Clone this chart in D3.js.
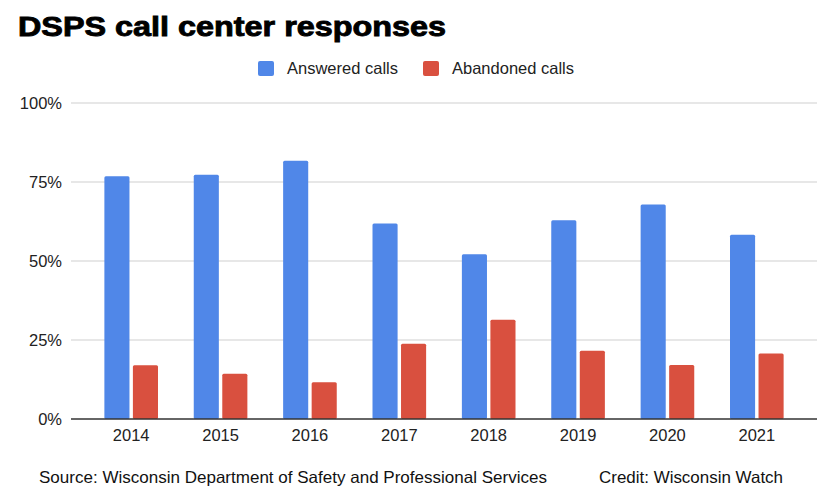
<!DOCTYPE html>
<html>
<head>
<meta charset="utf-8">
<script src="https://cdn.jsdelivr.net/npm/d3@7"></script>
<style>
  body { margin: 0; background: #fff; }
  text { font-family: "Liberation Sans", Arial, sans-serif; }
</style>
</head>
<body>
<div id="chart"></div>
<script>
// DSPS call center responses

var years = ["2014", "2015", "2016", "2017", "2018", "2019", "2020", "2021"];
var answered = [76.8, 77.3, 81.7, 61.9, 52.1, 62.9, 67.9, 58.3];
var abandoned = [17.0, 14.3, 11.6, 23.8, 31.4, 21.6, 17.1, 20.7];
var seriesNames = ["Answered calls", "Abandoned calls"];
var seriesColors = ["#5087e8", "#d9503f"];
var yTicks = [0, 25, 50, 75, 100];

var svgWidth = 829;
var svgHeight = 500;

var svg = d3.select("#chart")
  .append("svg")
  .attr("width", svgWidth)
  .attr("height", svgHeight);

// Title
svg.append("text")
  .attr("x", 18)
  .attr("y", 36)
  .attr("font-size", 28)
  .attr("font-weight", "bold")
  .attr("fill", "#000")
  .attr("stroke", "#000")
  .attr("stroke-width", 0.9)
  .attr("textLength", 428)
  .attr("lengthAdjust", "spacingAndGlyphs")
  .text("DSPS call center responses");

// Legend
var legendX = [258, 423];
seriesNames.forEach(function(name, i) {
  svg.append("rect")
    .attr("x", legendX[i])
    .attr("y", 61)
    .attr("width", 16)
    .attr("height", 15)
    .attr("rx", 2)
    .attr("fill", seriesColors[i]);
  svg.append("text")
    .attr("x", legendX[i] + 29)
    .attr("y", 74)
    .attr("font-size", 16.5)
    .attr("fill", "#222")
    .text(name);
});

// Scales
var x0 = d3.scaleBand()
  .domain(years)
  .range([86.5, 801.5])
  .paddingInner(0.4)
  .paddingOuter(0.2);

var x1 = d3.scaleBand()
  .domain([0, 1])
  .range([0, x0.bandwidth()])
  .paddingInner(0.12);

var y = d3.scaleLinear()
  .domain([0, 100])
  .range([419, 103]);

// Gridlines
svg.append("g")
  .selectAll("line")
  .data(yTicks.filter(d => d > 0))
  .enter()
  .append("line")
  .attr("x1", 71)
  .attr("x2", 817)
  .attr("y1", d => y(d))
  .attr("y2", d => y(d))
  .attr("stroke", "#d0d0d0")
  .attr("stroke-width", 1.2);

// Y tick labels
svg.append("g")
  .selectAll("text")
  .data(yTicks)
  .enter()
  .append("text")
  .attr("x", 62)
  .attr("y", d => y(d) + 6)
  .attr("text-anchor", "end")
  .attr("font-size", 16.5)
  .attr("fill", "#222")
  .text(d => d + "%");

// Bars
var rows = years.map(function(yr, i) {
  return { year: yr, values: [answered[i], abandoned[i]] };
});

var groups = svg.append("g")
  .selectAll("g")
  .data(rows)
  .enter()
  .append("g")
  .attr("transform", d => `translate(${x0(d.year)},0)`);

groups.selectAll("rect")
  .data(d => d.values.map((v, i) => ({ k: i, v: v })))
  .enter()
  .append("rect")
  .attr("x", d => x1(d.k))
  .attr("y", d => y(d.v))
  .attr("width", x1.bandwidth())
  .attr("height", d => y(0) - y(d.v))
  .attr("rx", 1.5)
  .attr("fill", d => seriesColors[d.k]);

// Baseline
svg.append("line")
  .attr("x1", 71)
  .attr("x2", 817)
  .attr("y1", y(0))
  .attr("y2", y(0))
  .attr("stroke", "#333")
  .attr("stroke-width", 1.5);

// X axis labels
var bottomAxis = d3.axisBottom(x0).tickSize(0).tickPadding(10);
var xAxis = svg.append("g")
  .attr("transform", `translate(0, ${y(0)})`)
  .call(bottomAxis);
xAxis.select(".domain").remove();
xAxis.selectAll("text")
  .attr("font-size", 16.5)
  .attr("font-family", "Liberation Sans, Arial, sans-serif")
  .attr("fill", "#222");

// Footer
svg.append("text")
  .attr("x", 39)
  .attr("y", 483)
  .attr("font-size", 16.5)
  .attr("fill", "#111")
  .attr("textLength", 508)
  .attr("lengthAdjust", "spacingAndGlyphs")
  .text("Source: Wisconsin Department of Safety and Professional Services");

svg.append("text")
  .attr("x", 599)
  .attr("y", 483)
  .attr("font-size", 16.5)
  .attr("fill", "#111")
  .attr("textLength", 184)
  .attr("lengthAdjust", "spacingAndGlyphs")
  .text("Credit: Wisconsin Watch");
</script>
</body>
</html>
